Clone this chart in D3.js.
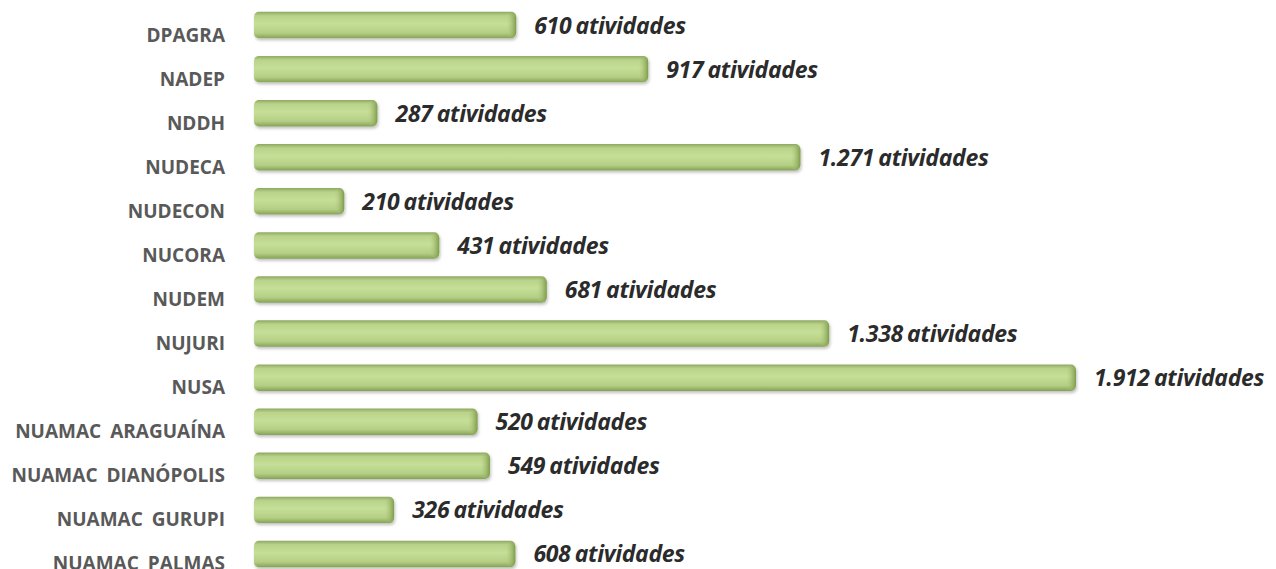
<!DOCTYPE html>
<html lang="pt">
<head>
<meta charset="utf-8">
<title>Atividades por núcleo</title>
<script src="https://cdn.jsdelivr.net/npm/d3@7"></script>
<style>
  body { margin: 0; background: #fff; }
  .cat { font-family: "Open Sans", sans-serif; font-weight: bold; font-size: 19px; fill: #595959; text-anchor: end; word-spacing: 4px; }
  .val { font-family: "Open Sans", sans-serif; font-weight: bold; font-style: italic; font-size: 23px; fill: #2b2b2b; letter-spacing: -0.3px; word-spacing: -1.5px; }
</style>
</head>
<body>
<div id="chart"></div>
<script>
var categories = ["DPAGRA", "NADEP", "NDDH", "NUDECA", "NUDECON", "NUCORA", "NUDEM", "NUJURI", "NUSA",
                  "NUAMAC ARAGUAÍNA", "NUAMAC DIANÓPOLIS", "NUAMAC GURUPI", "NUAMAC PALMAS"];
var values = [610, 917, 287, 1271, 210, 431, 681, 1338, 1912, 520, 549, 326, 608];
var valueLabels = ["610", "917", "287", "1.271", "210", "431", "681", "1.338", "1.912", "520", "549", "326", "608"];

var width = 1276, height = 569;
var left = 254;

var svg = d3.select("#chart").append("svg")
  .attr("width", width).attr("height", height);

var defs = svg.append("defs");
var grad = defs.append("linearGradient").attr("id", "barGrad")
  .attr("x1", 0).attr("y1", 0).attr("x2", 0).attr("y2", 1);
grad.append("stop").attr("offset", "0%").attr("stop-color", "#8ea862");
grad.append("stop").attr("offset", "15%").attr("stop-color", "#b9d38a");
grad.append("stop").attr("offset", "45%").attr("stop-color", "#c6df98");
grad.append("stop").attr("offset", "80%").attr("stop-color", "#b4cf84");
grad.append("stop").attr("offset", "100%").attr("stop-color", "#86a255");

var endGrad = defs.append("linearGradient").attr("id", "endGrad")
  .attr("x1", 0).attr("y1", 0).attr("x2", 1).attr("y2", 0);
endGrad.append("stop").attr("offset", "0%").attr("stop-color", "#b5d083").attr("stop-opacity", 0);
endGrad.append("stop").attr("offset", "100%").attr("stop-color", "#7d9a4c").attr("stop-opacity", 1);

var shadow = defs.append("filter").attr("id", "shadow")
  .attr("x", "-5%").attr("y", "-30%").attr("width", "110%").attr("height", "170%");
shadow.append("feDropShadow").attr("dx", 1).attr("dy", 2).attr("stdDeviation", 1.5)
  .attr("flood-color", "#000").attr("flood-opacity", 0.25);

var x = d3.scaleLinear().domain([0, 1912]).range([0, 822]);
var y = d3.scaleBand().domain(categories).range([3, 576]).paddingInner(0.4).paddingOuter(0.2);

var rows = svg.selectAll("g.row").data(categories).enter().append("g")
  .attr("class", "row")
  .attr("transform", function(d) { return "translate(0," + y(d) + ")"; });

var bh = y.bandwidth();

rows.append("rect")
  .attr("x", left)
  .attr("y", 0)
  .attr("width", function(d, i) { return x(values[i]); })
  .attr("height", bh)
  .attr("rx", 5)
  .attr("fill", "url(#barGrad)")
  .attr("filter", "url(#shadow)");

rows.append("rect")
  .attr("x", function(d, i) { return left + x(values[i]) - 10; })
  .attr("y", 1)
  .attr("width", 10)
  .attr("height", bh - 2)
  .attr("rx", 5)
  .attr("fill", "url(#endGrad)");

rows.append("text")
  .attr("class", "cat")
  .attr("x", 225)
  .attr("y", bh / 2 + 16.5)
  .text(function(d) { return d; });

rows.append("text")
  .attr("class", "val")
  .attr("x", function(d, i) { return left + x(values[i]) + 18; })
  .attr("y", bh / 2 + 8.5)
  .text(function(d, i) { return valueLabels[i] + " atividades"; });
</script>
</body>
</html>
